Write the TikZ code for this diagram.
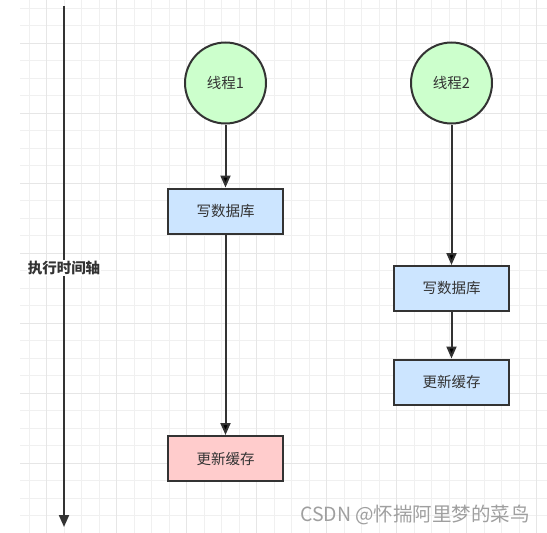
\documentclass[tikz,border=0pt]{standalone}
\usepackage{fontspec}
\usepackage{xcolor}
\usepackage{tikz}
\usetikzlibrary{arrows.meta,positioning}
\newfontfamily\cjk{Noto Sans CJK SC}

\definecolor{linecol}{HTML}{333333}
\definecolor{threadfill}{HTML}{CCFFCC}
\definecolor{stepfill}{HTML}{CCE5FF}
\definecolor{lastfill}{HTML}{FFCCCC}
\definecolor{gridminor}{HTML}{F0F0F0}
\definecolor{gridmajor}{HTML}{E6E6E6}

\tikzset{
    thread/.style={circle,draw=linecol,line width=2pt,fill=threadfill,minimum size=81pt,inner sep=0pt,text=linecol},
    stepbox/.style={rectangle,draw=linecol,line width=2pt,fill=stepfill,minimum width=115pt,minimum height=45pt,inner sep=0pt,text=linecol},
    flow/.style={draw=linecol,line width=2pt,-{Triangle[width=10pt,length=12pt]}}
}

\begin{document}
\begin{tikzpicture}[x=1pt,y=-1pt,font=\cjk\fontsize{14.5pt}{17pt}\selectfont]
    \useasboundingbox (0,0) rectangle (547,533);
    \fill[white] (0,0) rectangle (547,533);

    % grid
    \foreach \i in {0,...,29}
        \draw[gridminor,line width=0.9pt] (29.3+17.5*\i,0) -- (29.3+17.5*\i,533);
    \foreach \i in {0,...,29}
        \draw[gridminor,line width=0.9pt] (20,8.3+17.5*\i) -- (547,8.3+17.5*\i);
    \foreach \i in {0,...,7}
        \draw[gridmajor,line width=1.1pt] (46.7+70*\i,0) -- (46.7+70*\i,533);
    \foreach \i in {0,...,7}
        \draw[gridmajor,line width=1.1pt] (20,43.3+70*\i) -- (547,43.3+70*\i);

    % time axis
    \coordinate (axistop) at (64,6);
    \coordinate (axisend) at (64,527);
    \draw[flow] (axistop) -- (axisend);
    \node[name=axislabel,fill=white,inner sep=1pt,text=linecol] at (64,268) {\bfseries 执行时间轴};

    % thread 1
    \node[thread,name=t1] at (225.5,83) {线程1};
    \node[stepbox,name=w1,below=128pt of t1.center,anchor=center] {写数据库};
    \node[stepbox,name=c1,fill=lastfill,below=247.5pt of w1.center,anchor=center] {更新缓存};

    % thread 2
    \node[thread,name=t2] at (451.5,83) {线程2};
    \node[stepbox,name=w2,below=205.5pt of t2.center,anchor=center] {写数据库};
    \node[stepbox,name=c2,below=93.5pt of w2.center,anchor=center] {更新缓存};

    \path[flow] (t1) edge (w1)
                (w1) edge (c1)
                (t2) edge (w2)
                (w2) edge (c2);

    % watermark
    \node[name=mark,text=gray!75,font=\cjk\fontsize{19.5pt}{23pt}\selectfont] at (415,515) {CSDN @怀揣阿里梦的菜鸟};
\end{tikzpicture}
\end{document}
